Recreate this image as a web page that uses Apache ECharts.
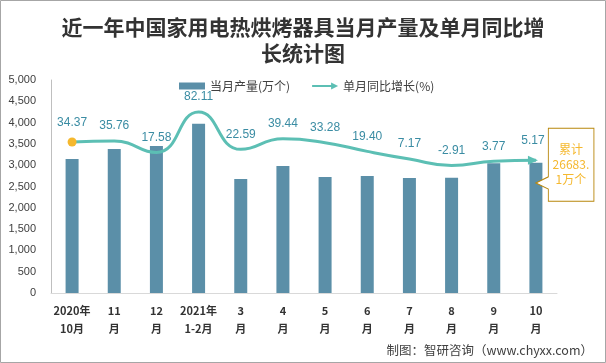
<!DOCTYPE html>
<html><head><meta charset="utf-8">
<script src="https://cdn.jsdelivr.net/npm/echarts@6/dist/echarts.min.js"></script>
<style>html,body{margin:0;padding:0;background:#fff}#c{width:606px;height:363px}</style>
</head><body><div id="c"></div>
<script>
const categories = ['2020年\n10月','11\n月','12\n月','2021年\n1-2月','3\n月','4\n月','5\n月','6\n月','7\n月','8\n月','9\n月','10\n月'];
const production = [3146, 3380, 3451, 3975, 2676, 2981, 2723, 2746, 2700, 2707, 3045, 3059];
const yoy = [34.37, 35.76, 17.58, 82.11, 22.59, 39.44, 33.28, 19.40, 7.17, -2.91, 3.77, 5.17];
const yTicks = [0, 500, 1000, 1500, 2000, 2500, 3000, 3500, 4000, 4500, 5000];
const cumulativeText = '累计\n26683.\n1万个';

const chart = echarts.init(document.getElementById('c'));
const lineData = yoy.map((v, i) => {
  if (i === 0) return {value: v, symbol: 'circle', symbolSize: 9, itemStyle: {color: '#f5b82e'}};
  if (i === yoy.length - 1) return {value: v, symbol: 'triangle', symbolSize: [9, 10], symbolRotate: -90, symbolOffset: [-3, 0], itemStyle: {color: '#5cbfb4'}};
  return {value: v, symbol: 'circle', symbolSize: 0.01, itemStyle: {color: 'rgba(0,0,0,0)'}};
});
chart.setOption({
  animation: false,
  title: {
    text: '近一年中国家用电热烘烤器具当月产量及单月同比增\n长统计图',
    left: 'center', top: 9,
    textStyle: {fontFamily: 'Noto Sans CJK SC', fontSize: 21, fontWeight: 'bold', color: '#333', lineHeight: 26}
  },
  legend: {
    left: 174, top: 75, itemWidth: 26, itemHeight: 7, itemGap: 22,
    textStyle: {fontFamily: 'Noto Sans CJK SC', fontSize: 12, color: '#404040'},
    data: [
      {name: '当月产量(万个)', icon: 'rect'},
      {name: '单月同比增长(%)', icon: 'path://M0,2.5L19,2.5L19,0L26,3.5L19,7L19,4.5L0,4.5Z'}
    ]
  },
  grid: {left: 51, right: 49, top: 80, bottom: 70},
  xAxis: {
    type: 'category', data: categories,
    axisLine: {lineStyle: {color: '#d9d9d9'}},
    axisTick: {length: 5, lineStyle: {color: '#d9d9d9'}},
    axisLabel: {interval: 0, margin: 9, fontFamily: 'Noto Sans CJK SC', fontSize: 11, fontWeight: 'bold', color: '#333', lineHeight: 18}
  },
  yAxis: [{
    type: 'value', min: yTicks[0], max: yTicks[yTicks.length - 1], interval: 500,
    axisLine: {show: true, lineStyle: {color: '#bfbfbf'}},
    axisTick: {show: false}, splitLine: {show: false},
    axisLabel: {margin: 15, fontSize: 11, color: '#404040', fontFamily: 'Liberation Sans',
      formatter: v => v.toLocaleString('en-US')}
  }, {
    type: 'value', min: -206, max: 133, show: false, splitLine: {show: false}
  }],
  series: [{
    name: '当月产量(万个)', type: 'bar', data: production, barWidth: 13,
    itemStyle: {color: '#5b8fa8'},
    markPoint: {
      data: [{coord: [categories.length - 1, production[production.length - 1]]}],
      symbol: 'path://M12,0L56,0L56,72L12,72L12,60L0,54L12,48Z',
      symbolSize: [58, 73], symbolOffset: [29, 2],
      itemStyle: {color: '#fff', borderColor: '#b8860b', borderWidth: 1},
      label: {show: true, formatter: cumulativeText, color: '#f5b82e', fontSize: 12, lineHeight: 15,
        fontFamily: 'Noto Sans CJK SC', offset: [6, 0]}
    }
  }, {
    name: '单月同比增长(%)', type: 'line', yAxisIndex: 1, data: lineData, smooth: 0.5,
    showSymbol: true,
    lineStyle: {color: '#5cbfb4', width: 3}, itemStyle: {color: '#5cbfb4'},
    label: {show: true, position: 'top', distance: 9, color: '#3a8ca3', fontSize: 12,
      formatter: p => p.value.toFixed(2)}
  }],
  graphic: [
    {type: 'rect', shape: {x: 0.5, y: 0.5, width: 605, height: 362}, style: {fill: 'none', stroke: '#a6a6a6', lineWidth: 1}, silent: true},
    {type: 'text', right: 13, top: 344, style: {text: '制图：智研咨询（www.chyxx.com）', fontFamily: 'Noto Sans CJK SC', fontSize: 12.5, fill: '#404040'}}
  ]
});
</script></body></html>
